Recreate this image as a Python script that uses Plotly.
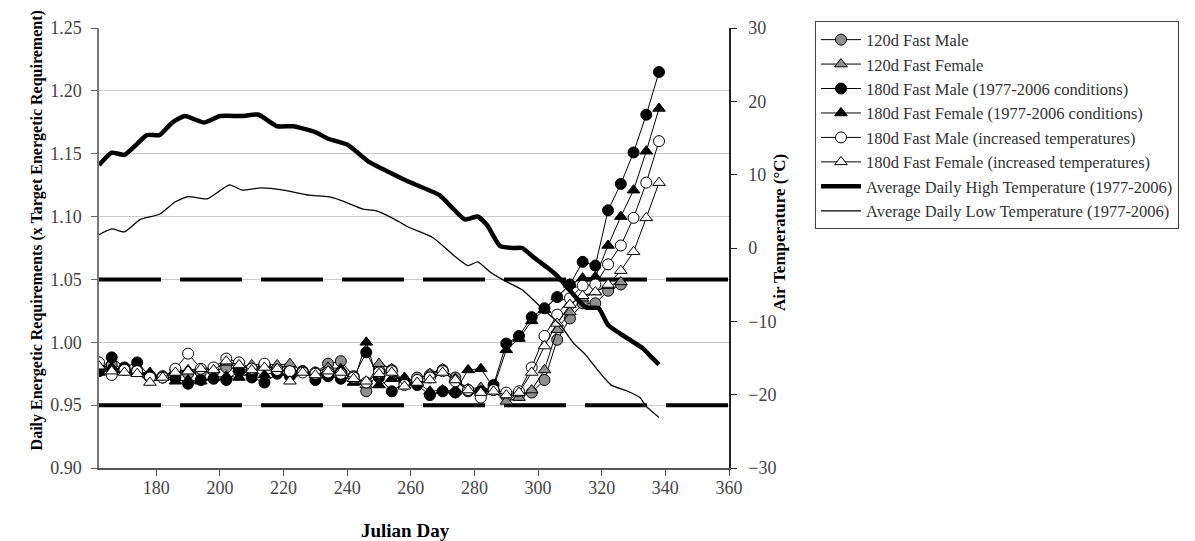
import plotly.graph_objects as go

# ---------------- data ----------------
days_180 = [162, 166, 170, 174, 178, 182, 186, 190, 194, 198, 202, 206, 210, 214, 218, 222,
            226, 230, 234, 238, 242, 246, 250, 254, 258, 262, 266, 270, 274, 278, 282, 286,
            290, 294, 298, 302, 306, 310, 314, 318, 322, 326, 330, 334, 338]
days_120 = days_180[:42]

male_120 = [0.980, 0.982, 0.979, 0.978, 0.973, 0.973, 0.978, 0.975, 0.976, 0.977, 0.980, 0.978,
            0.978, 0.982, 0.978, 0.978, 0.977, 0.976, 0.983, 0.985, 0.973, 0.961, 0.978, 0.978,
            0.969, 0.972, 0.974, 0.978, 0.972, 0.961, 0.960, 0.962, 0.957, 0.958, 0.960, 0.970,
            1.002, 1.019, 1.031, 1.031, 1.041, 1.046]
female_120 = [0.982, 0.979, 0.978, 0.977, 0.974, 0.973, 0.977, 0.978, 0.979, 0.978, 0.984, 0.979,
              0.982, 0.983, 0.982, 0.983, 0.977, 0.976, 0.980, 0.979, 0.971, 0.966, 0.983, 0.979,
              0.966, 0.970, 0.975, 0.979, 0.971, 0.963, 0.964, 0.961, 0.953, 0.956, 0.962, 0.978,
              1.010, 1.024, 1.035, 1.040, 1.045, 1.048]
male_180 = [0.977, 0.988, 0.980, 0.984, 0.973, 0.972, 0.972, 0.967, 0.970, 0.971, 0.970, 0.977,
            0.972, 0.968, 0.975, 0.973, 0.977, 0.970, 0.973, 0.971, 0.972, 0.992, 0.972, 0.961,
            0.968, 0.966, 0.958, 0.961, 0.960, 0.962, 0.961, 0.966, 0.999, 1.005, 1.020, 1.027,
            1.036, 1.046, 1.064, 1.061, 1.105, 1.126, 1.151, 1.181, 1.215]
female_180 = [0.976, 0.980, 0.978, 0.976, 0.976, 0.972, 0.969, 0.970, 0.969, 0.972, 0.973, 0.972,
              0.976, 0.974, 0.977, 0.976, 0.976, 0.976, 0.975, 0.978, 0.968, 1.000, 0.966, 0.971,
              0.972, 0.968, 0.961, 0.962, 0.961, 0.978, 0.979, 0.964, 0.994, 1.003, 1.017, 1.026,
              1.036, 1.046, 1.051, 1.052, 1.077, 1.100, 1.121, 1.152, 1.186]
male_180_warm = [0.984, 0.974, 0.978, 0.977, 0.972, 0.972, 0.979, 0.991, 0.979, 0.980, 0.987, 0.984,
                 0.979, 0.983, 0.978, 0.977, 0.976, 0.975, 0.976, 0.975, 0.972, 0.968, 0.976, 0.977,
                 0.966, 0.970, 0.972, 0.977, 0.969, 0.962, 0.956, 0.962, 0.960, 0.961, 0.980, 1.005,
                 1.022, 1.035, 1.045, 1.046, 1.062, 1.077, 1.099, 1.127, 1.160]
female_180_warm = [0.981, 0.977, 0.976, 0.975, 0.968, 0.972, 0.976, 0.977, 0.979, 0.978, 0.985, 0.982,
                   0.978, 0.980, 0.979, 0.969, 0.976, 0.974, 0.977, 0.976, 0.971, 0.969, 0.975, 0.976,
                   0.965, 0.968, 0.970, 0.976, 0.970, 0.962, 0.960, 0.961, 0.958, 0.960, 0.976, 0.997,
                   1.015, 1.030, 1.037, 1.040, 1.046, 1.057, 1.072, 1.099, 1.127]

high_days = [162, 166, 170, 174, 177, 181, 185, 189, 195, 200, 207, 212, 218, 223, 230, 234, 240,
             247, 251, 259, 269, 277, 281, 284, 288, 292, 295, 299, 303, 306, 311, 315, 319, 322,
             328, 333, 335, 338]
high_temp = [11.3, 13.0, 12.7, 14.2, 15.4, 15.4, 17.1, 18.0, 17.1, 18.0, 18.0, 18.2, 16.6, 16.6,
             15.8, 14.9, 14.1, 11.7, 10.8, 9.1, 7.2, 3.9, 4.3, 3.1, 0.3, 0.0, 0.0, -1.4, -2.7,
             -3.8, -6.3, -8.1, -8.2, -10.5, -12.3, -13.7, -14.6, -15.9]
low_days = [162, 166, 170, 175, 181, 186, 190, 196, 203, 207, 213, 220, 228, 234, 238, 245, 249,
            255, 259, 267, 274, 278, 281, 285, 288, 292, 295, 300, 307, 311, 315, 319, 323, 328,
            332, 334, 338]
low_temp = [1.8, 2.6, 2.2, 3.9, 4.6, 6.3, 7.0, 6.7, 8.6, 7.9, 8.2, 7.9, 7.2, 7.0, 6.5, 5.3, 5.1,
            3.9, 2.9, 1.4, -1.2, -2.4, -1.9, -3.3, -4.1, -5.0, -5.7, -7.7, -10.5, -12.9, -14.6,
            -16.8, -18.7, -19.5, -20.4, -21.6, -23.1]

band_days = [162, 360]
band_upper = [1.05, 1.05]
band_lower = [0.95, 0.95]

x_ticks = [180, 200, 220, 240, 260, 280, 300, 320, 340, 360]

# ---------------- figure ----------------
SERIF = "Liberation Serif, Times New Roman, serif"
GRAY = "#8f8f8f"
fig = go.Figure()

for yv in (band_upper, band_lower):
    fig.add_trace(go.Scatter(x=band_days, y=yv, mode="lines", showlegend=False,
                             line=dict(color="black", width=4, dash="62px,19px"),
                             hoverinfo="skip"))

def series(name, xs, ys, symbol, fill, size):
    fig.add_trace(go.Scatter(
        x=xs, y=ys, name=name, mode="lines+markers",
        line=dict(color="black", width=1),
        marker=dict(symbol=symbol, size=size, color=fill,
                    line=dict(color="black", width=1))))

series("120d Fast Male", days_120, male_120, "circle", GRAY, 11)
series("120d Fast Female", days_120, female_120, "triangle-up", GRAY, 11)
series("180d Fast Male (1977-2006 conditions)", days_180, male_180, "circle", "black", 11)
series("180d Fast Female (1977-2006 conditions)", days_180, female_180, "triangle-up", "black", 11)
series("180d Fast Male (increased temperatures)", days_180, male_180_warm, "circle", "white", 11)
series("180d Fast Female (increased temperatures)", days_180, female_180_warm, "triangle-up", "white", 11)

fig.add_trace(go.Scatter(x=high_days, y=high_temp, yaxis="y2", mode="lines",
                         name="Average Daily High Temperature (1977-2006)",
                         line=dict(color="black", width=4.5, shape="spline", smoothing=0.5)))
fig.add_trace(go.Scatter(x=low_days, y=low_temp, yaxis="y2", mode="lines",
                         name="Average Daily Low Temperature (1977-2006)",
                         line=dict(color="black", width=1.3, shape="spline", smoothing=0.5)))

def tfont():
    return dict(family=SERIF, size=18, color="#444444")

fig.update_layout(
    width=1195, height=541,
    margin=dict(l=91, r=474, t=20, b=81, autoexpand=False),
    paper_bgcolor="white", plot_bgcolor="white",
    font=dict(family=SERIF, color="black", size=17),
    xaxis=dict(range=[162, 360], tickvals=x_ticks, ticks="outside", ticklen=6,
               tickcolor="#555", showline=True, linecolor="#555", linewidth=1.5,
               showgrid=False, zeroline=False, tickfont=tfont(), ticklabelstandoff=-3),
    yaxis=dict(range=[0.90, 1.25], dtick=0.05, tickformat=".2f", ticks="outside",
               ticklen=6, tickcolor="#666", showline=True, linecolor="#777", linewidth=1.5,
               showgrid=True, gridcolor="#cccccc", gridwidth=1, zeroline=False,
               tickfont=tfont(), ticklabelstandoff=6),
    yaxis2=dict(range=[-30, 30], dtick=10, overlaying="y", side="right", anchor="x",
                ticks="outside", ticklen=6, tickcolor="#222", showline=True,
                linecolor="#222", linewidth=1.5, showgrid=False, zeroline=False,
                tickfont=tfont(), ticklabelstandoff=8),
    legend=dict(x=1.1365, y=1.015, xanchor="left", yanchor="top",
                bgcolor="white", bordercolor="#444", borderwidth=1,
                font=dict(family=SERIF, size=16.5, color="#333333"),
                itemwidth=40, traceorder="normal", tracegroupgap=0),
    showlegend=True,
)

fig.add_annotation(text="<b>Daily Energetic Requirements (x Target Energetic Requirement)</b>",
                   xref="paper", yref="paper", x=(18 - 91) / 630, y=0.54, textangle=-90,
                   showarrow=False, font=dict(family=SERIF, size=16, color="black"))
fig.add_annotation(text="<b>Air Temperature (°C)</b>",
                   xref="paper", yref="paper", x=(783 - 91) / 630, y=0.535, textangle=-90,
                   showarrow=False, font=dict(family=SERIF, size=17, color="black"))
fig.add_annotation(text="<b>Julian Day</b>",
                   xref="paper", yref="paper", x=(397 - 91) / 630, y=-(535 - 460) / 440,
                   showarrow=False, font=dict(family=SERIF, size=19, color="black"))

fig.write_html("out.html")
